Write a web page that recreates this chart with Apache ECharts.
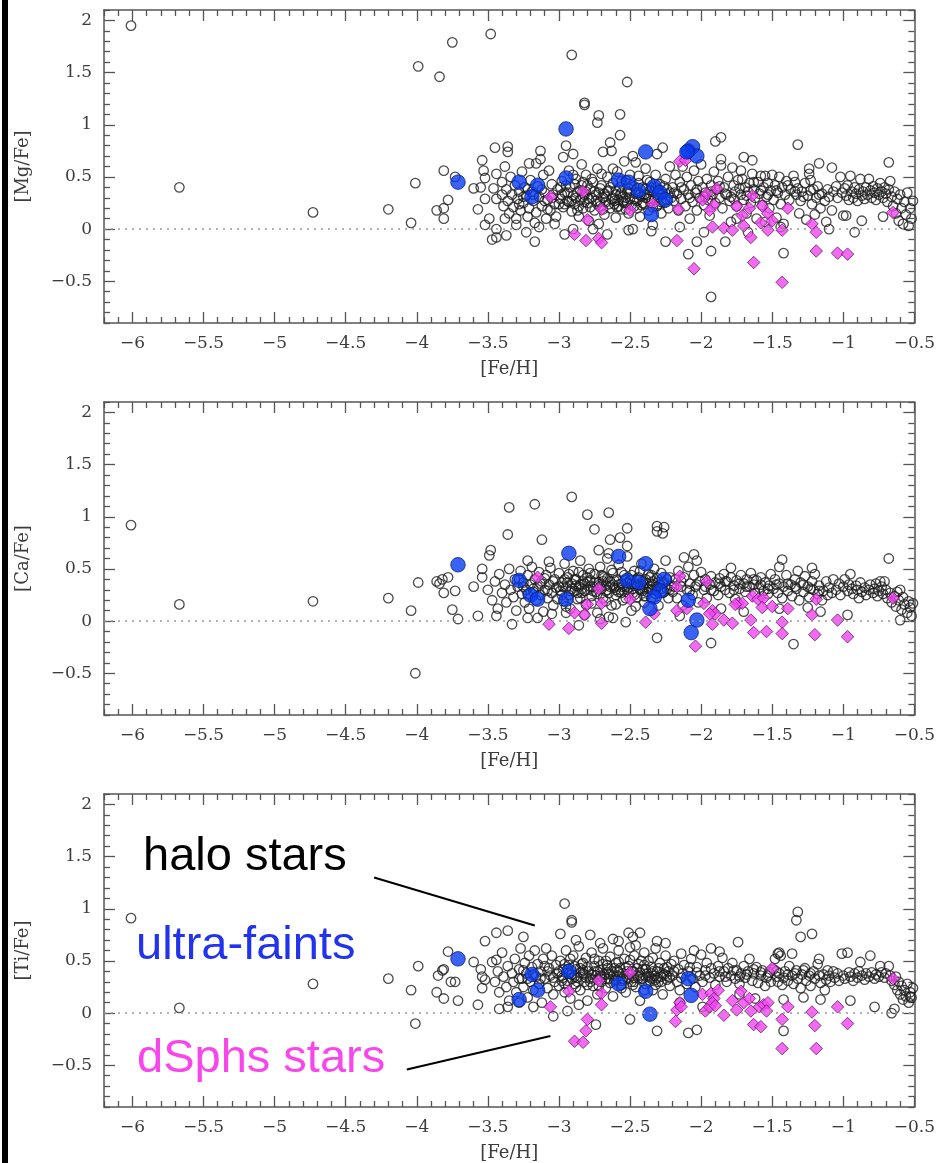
<!DOCTYPE html>
<html>
<head>
<meta charset="utf-8">
<script src="https://cdn.jsdelivr.net/npm/echarts@6/dist/echarts.min.js"></script>
<style>
  html, body { margin: 0; padding: 0; background: #fff; }
  #chart { width: 938px; height: 1163px; }
</style>
</head>
<body>
<div id="chart"></div>
<script>
// [X/Fe] vs [Fe/H] — halo stars, ultra-faint dwarfs and classical dSphs
var xMin = -6.2, xMax = -0.5, yMin = -0.9, yMax = 2.1;
var xTicks = [-6, -5.5, -5, -4.5, -4, -3.5, -3, -2.5, -2, -1.5, -1, -0.5];
var yTicks = [-0.5, 0, 0.5, 1, 1.5, 2];
var panelNames = ['[Mg/Fe]', '[Ca/Fe]', '[Ti/Fe]'];
var xName = '[Fe/H]';

// ── [Mg/Fe] ──
var haloMg = [
  [-6.01,1.95],[-5.67,0.40],[-4.73,0.16],[-4.20,0.19],[-4.04,0.06],[-4.01,0.44],[-3.99,1.56],[-3.84,1.46],[-3.75,1.79],[-3.81,0.56],
  [-3.86,0.18],[-3.81,0.20],[-3.81,0.10],[-3.78,0.28],[-3.73,0.50],[-3.48,1.87],[-2.91,1.67],[-2.52,1.41],[-2.82,1.21],[-2.82,1.19],
  [-2.72,1.09],[-2.73,1.02],[-2.57,1.10],[-2.57,0.90],[-1.93,-0.65],[-1.32,0.81],[-1.86,0.88],[-1.90,0.84],[-0.68,0.64],[-2.09,-0.24],
  [-2.03,-0.12],[-1.93,-0.21],[-1.42,-0.23],[-0.92,-0.03],[-0.98,0.13],[-1.70,0.69],[-1.64,0.66],[-1.17,0.63],[-1.08,0.59],[-3.45,0.78],
  [-3.36,0.79],[-3.36,0.74],[-3.47,-0.10],[-3.17,-0.12],[-3.57,0.19],[-3.54,0.66],
  [-3.60,0.39],[-3.55,0.40],[-3.53,0.56],[-3.52,0.49],[-3.52,0.29],[-3.44,0.53],[-3.46,0.39],[-3.44,0.29],[-3.49,0.10],[-3.52,0.04],
  [-3.44,0.00],[-3.44,-0.08],[-3.38,0.10],[-3.37,-0.06],[-3.30,0.04],[-3.23,-0.03],[-3.14,0.02],
  [-3.40,0.45],[-3.40,0.33],[-3.39,0.22],[-3.38,0.60],[-3.37,0.38],[-3.36,0.27],[-3.35,0.15],[-3.34,0.50],[-3.33,0.33],[-3.32,0.21],
  [-3.31,0.42],[-3.30,0.10],[-3.29,0.29],[-3.28,0.36],[-3.27,0.18],[-3.26,0.55],[-3.25,0.25],[-3.24,0.40],[-3.23,0.32],[-3.22,0.12],
  [-3.21,0.63],[-3.21,0.20],[-3.20,0.47],[-3.19,0.36],[-3.18,0.27],[-3.17,0.06],[-3.16,0.63],[-3.16,0.16],[-3.15,0.41],[-3.14,0.31],
  [-3.13,0.75],[-3.13,0.67],[-3.12,0.22],[-3.11,0.52],[-3.10,0.35],[-3.09,0.10],[-3.08,0.28],[-3.07,0.56],[-3.06,0.18],[-3.05,0.43],
  [-3.04,0.33],[-3.03,0.24],[-3.02,0.12],[-3.03,0.05],[-3.01,0.38],
  [-2.99,0.29],[-2.98,0.46],[-2.97,0.69],[-2.97,0.21],[-2.96,0.35],[-2.96,-0.05],[-2.95,0.80],[-2.94,0.27],[-2.93,0.56],[-2.92,0.40],
  [-2.91,0.17],[-2.90,0.72],[-2.90,0.32],[-2.90,0.00],[-2.89,0.24],[-2.88,0.48],[-2.87,0.36],[-2.86,0.12],[-2.85,0.28],[-2.84,0.62],
  [-2.84,0.42],[-2.83,0.20],[-2.82,0.33],[-2.81,0.52],[-2.80,0.25],[-2.79,0.08],[-2.78,0.38],[-2.77,0.30],[-2.76,0.45],[-2.76,0.00],
  [-2.75,0.18],[-2.74,0.27],[-2.73,0.58],[-2.72,0.35],[-2.72,0.05],[-2.71,0.22],[-2.70,0.42],[-2.69,0.74],[-2.69,0.30],[-2.68,0.14],
  [-2.67,0.26],[-2.66,0.50],[-2.66,-0.05],[-2.65,0.37],[-2.64,0.83],[-2.64,0.20],[-2.63,0.29],[-2.63,0.75],[-2.62,0.44],[-2.61,0.24],
  [-2.60,0.11],[-2.60,0.33],[-2.59,0.55],[-2.58,0.28],[-2.57,0.40],[-2.56,0.19],[-2.55,0.31],[-2.54,0.65],[-2.54,0.25],[-2.53,0.47],
  [-2.52,0.36],[-2.51,-0.01],[-2.51,0.15],[-2.50,0.29],[-2.49,0.42],[-2.48,0.70],[-2.48,0.00],[-2.47,0.22],[-2.46,0.64],[-2.46,0.34],
  [-2.45,0.27],[-2.44,0.51],[-2.43,0.12],[-2.42,0.31],[-2.41,0.40],[-2.40,0.24],[-2.39,0.58],[-2.38,0.33],[-2.37,0.18],[-2.36,0.45],
  [-2.35,0.27],[-2.34,0.04],[-2.33,0.36],[-2.32,0.52],[-2.31,0.72],[-2.31,0.22],[-2.30,0.30],[-2.29,0.43],[-2.28,0.15],[-2.27,0.78],
  [-2.27,0.34],[-2.26,0.25],[-2.25,-0.12],[-2.25,0.48],[-2.24,0.38],[-2.23,0.20],[-2.22,0.60],[-2.21,0.30],
  [-2.98,0.33],[-2.93,0.26],[-2.88,0.30],[-2.86,0.22],[-2.81,0.36],[-2.79,0.29],[-2.74,0.33],[-2.71,0.26],[-2.68,0.34],[-2.65,0.24],
  [-2.62,0.30],[-2.59,0.21],[-2.57,0.33],[-2.55,0.26],[-2.53,0.19],[-2.50,0.35],[-2.47,0.29],[-2.44,0.35],[-2.42,0.23],[-2.39,0.30],
  [-2.36,0.37],[-2.33,0.28],[-2.30,0.38],[-2.28,0.26],[-2.95,0.42],[-2.90,0.52],[-2.83,0.45],[-2.77,0.48],[-2.70,0.53],[-2.62,0.58],
  [-2.56,0.46],[-2.50,0.52],[-2.44,0.44],[-2.38,0.47],
  [-2.20,0.40],[-2.19,0.27],[-2.18,0.52],[-2.17,0.34],[-2.16,0.18],[-2.15,0.45],[-2.14,0.29],[-2.13,0.60],[-2.12,0.38],[-2.11,0.22],
  [-2.10,0.50],[-2.09,0.33],[-2.08,0.10],[-2.07,0.42],[-2.06,0.26],[-2.05,0.56],[-2.04,0.35],[-2.03,0.18],[-2.02,0.46],[-2.01,0.30],
  [-2.00,0.62],[-1.99,0.40],[-1.98,0.23],[-1.98,-0.03],[-1.97,0.35],[-1.96,0.48],[-1.95,0.28],[-1.94,0.13],[-1.93,0.42],[-1.92,0.33],
  [-1.91,0.55],[-1.90,0.25],[-1.89,0.38],[-1.88,0.46],[-1.87,0.30],[-1.86,0.67],[-1.86,0.61],[-1.85,0.20],[-1.84,0.40],[-1.83,-0.12],
  [-1.82,0.33],[-1.81,0.50],[-1.80,0.27],[-1.79,0.07],[-1.79,0.31],[-1.78,0.59],[-1.77,0.42],[-1.76,0.36],[-1.75,0.22],[-1.74,0.47],
  [-1.72,0.56],[-1.72,0.33],[-1.71,0.48],[-1.70,0.28],[-1.69,0.40],[-1.68,0.15],[-1.67,0.36],[-1.66,0.44],[-1.65,0.25],[-1.64,0.53],
  [-1.63,0.38],[-1.62,0.30],[-1.61,0.10],[-1.60,0.45],[-1.59,0.34],[-1.58,0.51],[-1.57,0.23],[-1.56,0.40],[-1.55,0.51],[-1.54,0.31],
  [-1.53,0.44],[-1.52,0.20],[-1.51,0.37],
  [-1.50,0.52],[-1.49,0.28],[-1.48,0.42],[-1.47,0.11],[-1.46,0.35],[-1.45,0.50],[-1.44,0.24],[-1.43,0.40],[-1.42,0.05],[-1.41,0.33],
  [-1.40,0.46],[-1.38,0.28],[-1.37,0.38],[-1.35,0.51],[-1.34,0.45],[-1.33,0.33],[-1.32,0.39],[-1.31,0.15],[-1.30,0.27],[-1.29,0.36],
  [-1.27,0.44],[-1.26,0.09],[-1.25,0.32],[-1.24,0.58],[-1.24,0.53],[-1.23,0.47],[-1.22,0.24],[-1.21,0.38],[-1.20,0.14],[-1.19,0.30],
  [-1.18,0.41],[-1.16,0.20],[-1.15,0.34],[-1.13,0.27],[-1.12,0.07],[-1.11,0.38],
  [-1.10,0.31],[-1.08,0.18],[-1.07,0.36],[-1.05,0.41],[-1.04,0.30],[-1.02,0.50],[-1.01,0.35],[-1.00,0.13],[-0.99,0.39],[-0.98,0.32],
  [-0.97,0.42],[-0.96,0.28],[-0.95,0.51],[-0.94,0.36],[-0.93,0.30],[-0.92,0.40],[-0.91,0.34],[-0.90,0.27],[-0.89,0.38],[-0.88,0.48],
  [-0.87,0.32],[-0.86,0.36],[-0.85,0.29],[-0.84,0.40],[-0.83,0.33],[-0.82,0.48],[-0.81,0.37],[-0.80,0.30],[-0.79,0.41],[-0.78,0.35],
  [-0.77,0.28],[-0.76,0.39],[-0.75,0.33],[-0.74,0.44],[-0.73,0.36],[-0.72,0.30],[-0.71,0.40],[-0.70,0.34],[-0.69,0.26],[-0.68,0.38],
  [-0.67,0.46],[-0.66,0.31],[-0.65,0.22],[-0.64,0.36],[-0.63,0.15],[-0.62,0.29],[-0.61,0.08],[-0.60,0.33],[-0.59,0.20],[-0.58,0.05],
  [-0.57,0.26],[-0.56,0.14],[-0.55,0.35],[-0.54,0.03],[-0.53,0.20],[-0.52,0.10],[-0.51,0.27],
  [-1.75,0.10],[-1.55,0.07],[-1.44,0.02],[-1.10,0.00],[-0.87,0.08],[-1.67,-0.03],[-2.15,0.02],[-2.35,-0.02],[-0.72,0.12]
];
var haloMgCore = [
  [-3.18,0.33],[-3.12,0.38],[-3.08,0.19],[-3.05,0.30],[-3.00,0.24],[-2.99,0.40],[-2.94,0.35],[-2.91,0.27],[-2.89,0.43],[-2.87,0.18],
  [-2.85,0.37],[-2.82,0.26],[-2.80,0.42],[-2.78,0.21],[-2.75,0.36],[-2.73,0.24],[-2.71,0.39],[-2.69,0.19],[-2.67,0.31],[-2.64,0.40],
  [-2.61,0.27],[-2.60,0.37],[-2.58,0.22],[-2.56,0.35],[-2.53,0.30],[-2.51,0.39],[-2.49,0.23],[-2.47,0.41],[-2.45,0.20],[-2.43,0.33],
  [-2.41,0.25],[-2.39,0.39],[-2.37,0.29],[-2.34,0.21],[-2.32,0.40],[-2.30,0.24],[-2.28,0.33],[-2.26,0.41],[-2.24,0.28],[-2.22,0.35],
  [-3.25,0.31],[-3.22,0.38],[-3.28,0.24],[-3.10,0.27],[-2.96,0.24],[-2.83,0.31],[-2.66,0.36],[-2.52,0.25],[-2.40,0.33],[-2.35,0.40],
  [-2.19,0.35],[-2.14,0.40],[-2.08,0.30],[-2.03,0.38],[-1.97,0.31],[-1.93,0.36],[-1.87,0.41],[-1.83,0.34],[-1.77,0.29],[-1.73,0.39],
  [-1.68,0.32],[-1.63,0.45],[-1.58,0.37],[-1.53,0.33],[-1.47,0.37],[-1.39,0.42],[-1.34,0.36],[-1.28,0.31],[-1.23,0.37],[-1.17,0.33]
];
var ufMg = [
  [-3.71,0.45],[-3.28,0.45],[-3.15,0.42],[-3.19,0.31],[-2.95,0.96],[-2.95,0.49],[-2.58,0.47],[-2.51,0.45],[-2.44,0.37],
  [-2.39,0.74],[-2.33,0.41],[-2.29,0.35],[-2.25,0.28],[-2.35,0.14],[-2.09,0.75],[-2.06,0.79],[-2.03,0.70],[-2.10,0.74]
];
var dsphMg = [
  [-3.06,0.31],[-2.83,0.36],[-2.70,0.19],[-2.80,0.09],[-2.89,-0.05],[-2.81,-0.11],[-2.72,-0.09],[-2.70,-0.13],[-2.50,0.18],
  [-2.34,0.24],[-2.16,0.19],[-2.15,0.65],[-2.11,0.66],[-2.17,-0.11],[-2.05,-0.38],[-1.99,0.28],[-1.96,0.34],[-1.89,0.39],
  [-1.91,0.23],[-1.94,0.18],[-1.92,0.02],[-1.84,0.01],[-1.78,-0.01],[-1.75,0.22],[-1.71,0.13],[-1.66,0.20],[-1.64,0.32],
  [-1.70,0.03],[-1.65,-0.08],[-1.63,-0.32],[-1.58,0.06],[-1.57,0.22],[-1.53,0.15],[-1.50,0.08],[-1.53,-0.01],[-1.43,-0.01],
  [-1.39,0.20],[-1.43,-0.51],[-1.22,0.05],[-1.19,-0.03],[-1.19,-0.21],[-1.04,-0.23],[-0.97,-0.24],[-0.65,0.16]
];

// ── [Ca/Fe] ──
var haloCa = [
  [-6.01,0.92],[-5.67,0.16],[-4.73,0.19],[-4.20,0.22],[-4.04,0.10],[-3.99,0.37],[-4.01,-0.50],[-3.86,0.38],[-3.84,0.36],[-3.82,0.40],
  [-3.78,0.42],[-3.81,0.27],[-3.75,0.11],[-3.73,0.29],[-3.71,0.02],[-3.60,0.33],[-3.54,0.50],[-3.54,0.42],[-3.49,0.63],[-3.48,0.68],
  [-3.36,0.83],[-3.35,1.09],[-3.17,1.12],[-3.12,0.78],[-3.22,0.58],[-3.07,0.57],[-2.91,1.19],[-2.80,1.02],[-2.65,1.04],[-2.75,0.88],
  [-2.52,0.89],[-2.64,0.78],[-2.57,0.80],[-2.52,0.72],[-2.72,0.68],[-2.65,0.65],[-2.31,0.91],[-2.31,0.86],[-2.27,0.84],[-2.31,-0.16],
  [-3.33,-0.03],[-3.22,0.03],[-2.86,-0.04],[-2.65,0.04],[-2.62,0.03],[-2.53,-0.01],[-3.57,0.05],[-2.26,0.90],[-2.12,0.61],[-2.05,0.64],
  [-2.03,0.58],[-1.79,0.51],[-1.43,0.59],[-1.45,0.52],[-1.32,0.48],[-1.22,0.51],[-0.68,0.60],[-0.74,0.38],[-0.95,0.45],[-0.97,0.06],
  [-1.35,-0.22],[-1.93,-0.21],[-1.16,0.09],[-0.60,0.01],
  [-3.50,0.30],[-3.47,0.20],[-3.45,0.38],[-3.43,0.12],[-3.42,0.45],[-3.40,0.27],[-3.38,0.35],[-3.37,0.18],[-3.35,0.50],[-3.34,0.30],
  [-3.32,0.23],[-3.31,0.40],[-3.30,0.10],[-3.29,0.33],[-3.27,0.48],[-3.26,0.26],[-3.25,0.37],[-3.24,0.18],[-3.23,0.30],[-3.22,0.44],
  [-3.21,0.12],[-3.20,0.35],[-3.19,0.52],[-3.18,0.28],[-3.17,0.40],[-3.16,0.20],[-3.15,0.33],[-3.14,0.47],[-3.13,0.25],[-3.12,0.38],
  [-3.11,0.09],[-3.10,0.30],[-3.09,0.44],[-3.08,0.22],[-3.07,0.35],[-3.06,0.51],[-3.05,0.27],[-3.04,0.15],[-3.03,0.40],[-3.02,0.32],
  [-3.01,0.21],[-3.44,0.05],[-3.15,0.03],[-3.05,0.07],
  [-3.00,0.46],[-2.99,0.29],[-2.98,0.37],[-2.97,0.19],[-2.96,0.55],[-2.95,0.32],[-2.94,0.42],[-2.93,0.25],[-2.92,0.12],[-2.91,0.36],
  [-2.90,0.48],[-2.89,0.29],[-2.88,0.40],[-2.87,0.21],[-2.86,0.33],[-2.85,0.58],[-2.84,0.27],[-2.83,0.44],[-2.82,0.36],[-2.81,0.16],
  [-2.80,0.30],[-2.79,0.50],[-2.78,0.39],[-2.77,0.24],[-2.76,0.33],[-2.75,0.45],[-2.74,0.28],[-2.73,0.08],[-2.72,0.37],[-2.71,0.52],
  [-2.70,0.31],[-2.69,0.22],[-2.68,0.42],[-2.67,0.34],[-2.66,0.60],[-2.65,0.27],[-2.64,0.38],[-2.63,0.15],[-2.62,0.46],[-2.61,0.32],
  [-2.60,0.25],[-2.59,0.40],[-2.58,0.54],[-2.57,0.30],[-2.56,0.36],[-2.55,0.20],[-2.54,0.44],[-2.53,0.33],[-2.52,0.62],[-2.51,0.27],
  [-2.50,0.39],[-2.49,0.10],[-2.48,0.31],[-2.47,0.48],[-2.46,0.36],[-2.45,0.23],[-2.44,0.42],[-2.43,0.30],[-2.42,0.55],[-2.41,0.34],
  [-2.40,0.18],[-2.39,0.40],[-2.38,0.28],[-2.37,0.45],[-2.36,0.33],[-2.35,0.22],[-2.34,0.38],[-2.33,0.50],[-2.32,0.30],[-2.31,0.41],
  [-2.30,0.15],[-2.29,0.35],[-2.28,0.46],[-2.27,0.27],[-2.26,0.37],[-2.25,0.58],[-2.24,0.31],[-2.23,0.22],[-2.22,0.42],[-2.21,0.34],
  [-2.97,0.33],[-2.92,0.29],[-2.88,0.34],[-2.84,0.31],[-2.80,0.38],[-2.76,0.29],[-2.73,0.34],[-2.69,0.38],[-2.66,0.30],[-2.62,0.35],
  [-2.58,0.28],[-2.55,0.33],[-2.52,0.37],[-2.48,0.27],[-2.45,0.34],[-2.41,0.29],[-2.38,0.36],[-2.35,0.30],[-2.31,0.33],[-2.27,0.36],
  [-2.93,0.45],[-2.86,0.47],[-2.78,0.46],[-2.70,0.44],[-2.63,0.49],[-2.56,0.47],[-2.49,0.44],[-2.43,0.48],[-2.36,0.42],[-2.95,0.14],
  [-2.85,0.22],[-2.77,0.17],[-2.67,0.19],[-2.60,0.16],[-2.53,0.22],[-2.46,0.14],[-2.40,0.24],[-2.95,0.08],[-2.82,0.06],[-2.71,0.02],
  [-2.20,0.28],[-2.18,0.40],[-2.17,0.22],[-2.16,0.48],[-2.14,0.33],[-2.13,0.15],[-2.12,0.42],[-2.10,0.30],[-2.09,0.52],[-2.08,0.36],
  [-2.06,0.25],[-2.05,0.44],[-2.04,0.33],[-2.02,0.18],[-2.01,0.38],[-2.00,0.47],[-1.98,0.30],[-1.97,0.40],[-1.96,0.22],[-1.94,0.35],
  [-1.93,0.43],[-1.91,0.29],[-1.90,0.37],[-1.88,0.25],[-1.87,0.41],[-1.86,0.33],[-1.84,0.45],[-1.83,0.30],[-1.82,0.38],[-1.80,0.27],
  [-1.79,0.42],[-1.77,0.34],[-1.76,0.21],[-1.75,0.39],[-1.73,0.31],[-1.72,0.44],[-1.70,0.36],[-1.69,0.28],[-1.68,0.40],[-1.66,0.33],
  [-1.65,0.46],[-1.63,0.35],[-1.62,0.27],[-1.61,0.39],[-1.59,0.32],[-1.58,0.42],[-1.56,0.29],[-1.55,0.37],[-1.53,0.26],[-1.52,0.34],
  [-1.51,0.45],[-2.15,0.05],[-1.86,0.12],[-1.70,0.09],
  [-1.49,0.31],[-1.48,0.40],[-1.46,0.27],[-1.45,0.36],[-1.43,0.22],[-1.42,0.33],[-1.40,0.44],[-1.39,0.29],[-1.37,0.35],[-1.36,0.24],
  [-1.34,0.40],[-1.33,0.31],[-1.31,0.20],[-1.30,0.37],[-1.28,0.28],[-1.27,0.43],[-1.25,0.33],[-1.24,0.23],[-1.22,0.38],[-1.21,0.30],
  [-1.20,0.45],[-1.18,0.26],[-1.17,0.34],[-1.15,0.20],[-1.14,0.29],[-1.12,0.38],[-1.11,0.25],[-1.25,0.13],[-1.45,0.12],
  [-1.10,0.32],[-1.08,0.27],[-1.07,0.40],[-1.05,0.30],[-1.03,0.36],[-1.02,0.25],[-1.00,0.33],[-0.99,0.40],[-0.97,0.29],[-0.96,0.35],
  [-0.94,0.31],[-0.93,0.26],[-0.91,0.34],[-0.90,0.30],[-0.88,0.37],[-0.87,0.28],[-0.85,0.32],[-0.84,0.25],[-0.82,0.30],[-0.81,0.35],
  [-0.79,0.27],[-0.78,0.31],[-0.76,0.24],[-0.75,0.29],[-0.73,0.33],[-0.72,0.26],[-0.70,0.30],[-0.69,0.22],[-0.67,0.27],[-0.66,0.18],
  [-0.64,0.24],[-0.63,0.14],[-0.62,0.28],[-0.61,0.20],[-0.59,0.11],[-0.58,0.23],[-0.57,0.16],[-0.55,0.08],[-0.54,0.19],[-0.53,0.13],
  [-0.52,0.05],[-0.51,0.17],[-0.89,0.22],[-0.77,0.36],[-0.71,0.38],[-0.60,0.30]
];
var haloCaCore = [
  [-3.18,0.31],[-3.13,0.36],[-3.08,0.29],[-3.04,0.38],[-3.00,0.33],[-2.98,0.25],[-2.94,0.37],[-2.91,0.31],[-2.89,0.40],[-2.87,0.27],
  [-2.85,0.35],[-2.82,0.29],[-2.80,0.42],[-2.78,0.33],[-2.75,0.37],[-2.73,0.26],[-2.71,0.33],[-2.69,0.43],[-2.67,0.29],[-2.64,0.33],
  [-2.61,0.39],[-2.60,0.30],[-2.58,0.35],[-2.56,0.27],[-2.53,0.40],[-2.51,0.32],[-2.49,0.36],[-2.47,0.25],[-2.45,0.41],[-2.43,0.35],
  [-2.41,0.38],[-2.39,0.24],[-2.37,0.31],[-2.34,0.35],[-2.32,0.26],[-2.30,0.37],[-2.28,0.31],[-2.26,0.28],[-2.24,0.40],[-2.22,0.30],
  [-3.25,0.33],[-3.22,0.26],[-3.28,0.40],[-3.10,0.41],[-2.96,0.40],[-2.83,0.38],[-2.66,0.41],[-2.52,0.30],[-2.40,0.31],[-2.35,0.44],
  [-2.19,0.33],[-2.14,0.38],[-2.08,0.29],[-2.03,0.35],[-1.97,0.33],[-1.93,0.30],[-1.87,0.36],[-1.83,0.38],[-1.77,0.30],[-1.73,0.36],
  [-1.68,0.33],[-1.63,0.40],[-1.58,0.35],[-1.53,0.31],[-1.47,0.35],[-1.39,0.36],[-1.34,0.33],[-1.28,0.35],[-1.23,0.31],[-1.17,0.29]
];
var ufCa = [
  [-3.71,0.54],[-3.28,0.39],[-3.20,0.25],[-3.15,0.21],[-2.95,0.21],[-2.93,0.65],[-2.58,0.62],[-2.52,0.39],[-2.44,0.37],
  [-2.39,0.55],[-2.26,0.40],[-2.29,0.29],[-2.33,0.23],[-2.36,0.12],[-2.09,0.20],[-2.03,0.01],[-2.07,-0.11]
];
var dsphCa = [
  [-3.15,0.42],[-3.07,-0.03],[-2.93,-0.07],[-2.89,0.08],[-2.82,0.06],[-2.80,0.16],[-2.72,0.31],[-2.70,0.17],[-2.70,-0.02],
  [-2.50,0.21],[-2.39,-0.01],[-2.33,0.07],[-2.17,0.10],[-2.15,0.43],[-2.17,0.33],[-2.10,0.12],[-2.04,-0.24],[-1.98,0.17],
  [-1.96,0.38],[-1.92,0.10],[-1.90,0.07],[-1.94,0.07],[-1.92,-0.03],[-1.84,0.01],[-1.78,-0.02],[-1.74,0.17],[-1.71,0.17],
  [-1.64,0.24],[-1.60,0.21],[-1.56,0.22],[-1.65,0.01],[-1.63,-0.11],[-1.57,0.13],[-1.54,-0.10],[-1.50,0.14],[-1.43,-0.01],
  [-1.43,-0.12],[-1.39,0.12],[-1.22,0.06],[-1.19,0.21],[-1.20,-0.13],[-1.04,0.01],[-0.97,-0.15],[-0.65,0.22],[-1.76,0.16]
];

// ── [Ti/Fe] ──
var haloTi = [
  [-6.01,0.91],[-5.67,0.05],[-4.73,0.28],[-4.20,0.33],[-4.04,0.22],[-3.99,0.45],[-4.01,-0.10],[-3.78,0.59],[-3.85,0.36],[-3.82,0.41],
  [-3.81,0.42],[-3.76,0.30],[-3.73,0.30],[-3.86,0.20],[-3.81,0.14],[-3.71,0.12],[-3.60,0.49],[-3.55,0.42],[-3.54,0.35],[-3.52,0.32],
  [-3.57,0.08],[-3.52,0.69],[-3.44,0.77],[-3.36,0.79],[-3.25,0.73],[-3.47,0.49],[-3.44,0.51],[-3.54,0.24],[-2.96,1.05],[-2.91,0.89],
  [-2.91,0.87],[-2.99,0.76],[-2.88,0.70],[-2.78,0.75],[-2.71,0.67],[-2.62,0.71],[-2.58,0.69],[-2.51,0.77],[-2.48,0.73],[-2.43,0.77],
  [-2.46,0.65],[-2.31,0.69],[-3.04,-0.03],[-2.94,0.02],[-2.86,0.08],[-2.74,-0.11],[-2.50,-0.06],[-2.31,-0.17],[-1.32,0.97],[-1.33,0.89],
  [-1.30,0.73],[-1.22,0.76],[-1.74,0.68],[-2.09,-0.19],[-2.03,-0.16],[-1.42,-0.17],[-2.25,0.67],[-2.14,0.57],[-0.78,0.06],[-0.66,0.00],
  [-0.53,0.16],
  [-3.45,0.30],[-3.43,0.40],[-3.42,0.20],[-3.40,0.58],[-3.39,0.35],[-3.37,0.25],[-3.36,0.45],[-3.35,0.12],[-3.33,0.38],[-3.32,0.30],
  [-3.31,0.52],[-3.30,0.20],[-3.28,0.42],[-3.27,0.62],[-3.26,0.33],[-3.25,0.25],[-3.24,0.48],[-3.23,0.38],[-3.22,0.15],[-3.21,0.55],
  [-3.20,0.30],[-3.19,0.44],[-3.18,0.22],[-3.17,0.60],[-3.16,0.35],[-3.15,0.47],[-3.14,0.28],[-3.13,0.40],[-3.12,0.10],[-3.11,0.52],
  [-3.10,0.33],[-3.09,0.62],[-3.08,0.24],[-3.07,0.43],[-3.06,0.36],[-3.05,0.55],[-3.04,0.18],[-3.03,0.30],[-3.02,0.46],[-3.01,0.38],
  [-3.36,0.06],[-3.28,0.10],[-3.18,0.06],[-3.42,0.04],
  [-3.00,0.26],[-2.99,0.50],[-2.98,0.36],[-2.97,0.42],[-2.96,0.20],[-2.95,0.60],[-2.94,0.31],[-2.93,0.46],[-2.92,0.14],[-2.91,0.37],
  [-2.90,0.55],[-2.89,0.28],[-2.88,0.42],[-2.87,0.34],[-2.86,0.64],[-2.85,0.22],[-2.84,0.47],[-2.83,0.38],[-2.82,0.30],[-2.81,0.53],
  [-2.80,0.12],[-2.79,0.40],[-2.78,0.33],[-2.77,0.58],[-2.76,0.26],[-2.75,0.45],[-2.74,0.36],[-2.73,0.18],[-2.72,0.50],[-2.71,0.41],
  [-2.70,0.30],[-2.69,0.62],[-2.68,0.37],[-2.67,0.24],[-2.66,0.46],[-2.65,0.33],[-2.64,0.54],[-2.63,0.40],[-2.62,0.16],[-2.61,0.31],
  [-2.60,0.48],[-2.59,0.36],[-2.58,0.60],[-2.57,0.43],[-2.56,0.27],[-2.55,0.38],[-2.54,0.52],[-2.53,0.20],[-2.52,0.34],[-2.51,0.45],
  [-2.50,0.63],[-2.49,0.30],[-2.48,0.40],[-2.47,0.55],[-2.46,0.25],[-2.45,0.36],[-2.44,0.47],[-2.43,0.12],[-2.42,0.33],[-2.41,0.42],
  [-2.40,0.58],[-2.39,0.28],[-2.38,0.38],[-2.37,0.50],[-2.36,0.31],[-2.35,0.44],[-2.34,0.22],[-2.33,0.36],[-2.32,0.62],[-2.31,0.40],
  [-2.30,0.30],[-2.29,0.48],[-2.28,0.35],[-2.27,0.18],[-2.26,0.43],[-2.25,0.55],[-2.24,0.32],[-2.23,0.40],[-2.22,0.26],[-2.21,0.47],
  [-2.97,0.34],[-2.93,0.38],[-2.89,0.35],[-2.85,0.39],[-2.81,0.34],[-2.77,0.37],[-2.73,0.40],[-2.70,0.35],[-2.66,0.39],[-2.62,0.36],
  [-2.59,0.41],[-2.55,0.33],[-2.51,0.37],[-2.47,0.34],[-2.43,0.39],[-2.39,0.35],[-2.35,0.38],[-2.31,0.34],[-2.27,0.38],[-2.24,0.36],
  [-2.96,0.28],[-2.88,0.25],[-2.80,0.27],[-2.72,0.26],[-2.64,0.29],[-2.56,0.24],[-2.48,0.27],[-2.40,0.22],[-2.32,0.27],[-2.92,0.52],
  [-2.83,0.48],[-2.75,0.52],[-2.67,0.50],[-2.58,0.49],[-2.50,0.51],[-2.42,0.50],[-2.34,0.53],
  [-2.20,0.36],[-2.19,0.50],[-2.17,0.30],[-2.16,0.42],[-2.15,0.22],[-2.13,0.38],[-2.12,0.46],[-2.10,0.28],[-2.09,0.40],[-2.07,0.52],
  [-2.06,0.33],[-2.04,0.25],[-2.03,0.44],[-2.01,0.36],[-2.00,0.56],[-1.99,0.30],[-1.97,0.41],[-1.96,0.48],[-1.94,0.34],[-1.93,0.62],
  [-1.91,0.38],[-1.90,0.27],[-1.88,0.45],[-1.87,0.35],[-1.85,0.53],[-1.84,0.40],[-1.82,0.30],[-1.81,0.43],[-1.79,0.36],[-1.78,0.48],
  [-1.76,0.33],[-1.75,0.41],[-1.73,0.28],[-1.72,0.38],[-1.70,0.45],[-1.69,0.34],[-1.67,0.40],[-1.66,0.52],[-1.64,0.31],[-1.63,0.38],
  [-1.61,0.44],[-1.60,0.29],[-1.58,0.36],[-1.57,0.41],[-1.55,0.26],[-1.54,0.34],[-1.52,0.39],[-1.51,0.30],[-2.05,0.60],[-1.87,0.59],
  [-1.99,0.06],[-1.73,0.18],[-1.62,0.14],[-2.15,0.10],
  [-1.49,0.42],[-1.48,0.52],[-1.47,0.35],[-1.46,0.30],[-1.45,0.38],[-1.44,0.55],[-1.43,0.27],[-1.42,0.34],[-1.41,0.40],[-1.39,0.31],
  [-1.38,0.45],[-1.36,0.36],[-1.35,0.28],[-1.33,0.41],[-1.32,0.33],[-1.30,0.24],[-1.29,0.37],[-1.27,0.43],[-1.26,0.31],[-1.24,0.36],
  [-1.23,0.26],[-1.21,0.40],[-1.20,0.33],[-1.18,0.47],[-1.17,0.52],[-1.16,0.29],[-1.14,0.37],[-1.13,0.22],[-1.12,0.32],[-1.11,0.41],
  [-1.46,0.57],[-1.45,0.58],[-1.36,0.57],[-1.28,0.15],[-1.42,0.13],
  [-1.10,0.36],[-1.09,0.30],[-1.07,0.40],[-1.06,0.34],[-1.04,0.38],[-1.03,0.31],[-1.01,0.57],[-1.00,0.36],[-0.99,0.33],[-0.97,0.58],
  [-0.96,0.39],[-0.95,0.35],[-0.93,0.31],[-0.92,0.38],[-0.90,0.34],[-0.89,0.40],[-0.88,0.49],[-0.87,0.36],[-0.85,0.32],[-0.84,0.38],
  [-0.82,0.35],[-0.81,0.55],[-0.80,0.39],[-0.78,0.33],[-0.77,0.37],[-0.75,0.35],[-0.74,0.45],[-0.73,0.39],[-0.71,0.34],[-0.70,0.38],
  [-0.68,0.45],[-0.67,0.36],[-0.66,0.31],[-0.64,0.27],[-0.63,0.35],[-0.62,0.22],[-0.61,0.30],[-0.60,0.18],[-0.59,0.26],[-0.58,0.13],
  [-0.57,0.22],[-0.56,0.16],[-0.55,0.28],[-0.54,0.10],[-0.53,0.20],[-0.52,0.15],[-0.51,0.24],[-0.64,0.04],[-0.95,0.12],[-1.16,0.13]
];
var haloTiCore = [
  [-3.18,0.37],[-3.13,0.33],[-3.08,0.40],[-3.04,0.34],[-3.00,0.40],[-2.98,0.31],[-2.94,0.42],[-2.91,0.33],[-2.89,0.45],[-2.87,0.30],
  [-2.85,0.43],[-2.82,0.37],[-2.80,0.44],[-2.78,0.30],[-2.75,0.40],[-2.73,0.32],[-2.71,0.36],[-2.69,0.47],[-2.67,0.33],[-2.64,0.37],
  [-2.61,0.43],[-2.60,0.32],[-2.58,0.39],[-2.56,0.31],[-2.53,0.44],[-2.51,0.33],[-2.49,0.40],[-2.47,0.30],[-2.45,0.43],[-2.43,0.36],
  [-2.41,0.33],[-2.39,0.42],[-2.37,0.35],[-2.34,0.40],[-2.32,0.32],[-2.30,0.43],[-2.28,0.30],[-2.26,0.37],[-2.24,0.44],[-2.22,0.34],
  [-3.25,0.41],[-3.22,0.33],[-3.28,0.33],[-3.10,0.45],[-2.96,0.47],[-2.83,0.41],[-2.66,0.43],[-2.52,0.40],[-2.40,0.46],[-2.35,0.33],
  [-2.19,0.40],[-2.14,0.34],[-2.08,0.44],[-2.03,0.39],[-1.97,0.36],[-1.93,0.43],[-1.87,0.40],[-1.83,0.35],[-1.77,0.41],[-1.73,0.35],
  [-1.68,0.37],[-1.63,0.42],[-1.58,0.39],[-1.53,0.36],[-1.47,0.40],[-1.39,0.37],[-1.34,0.38],[-1.28,0.41],[-1.23,0.38],[-1.17,0.36]
];
var ufTi = [
  [-3.71,0.52],[-3.28,0.13],[-3.19,0.37],[-3.15,0.22],[-2.93,0.40],[-2.58,0.28],[-2.39,0.21],[-2.36,-0.01],[-2.09,0.33],[-2.07,0.17]
];
var dsphTi = [
  [-3.06,0.06],[-2.93,0.21],[-2.89,-0.27],[-2.83,-0.28],[-2.81,-0.17],[-2.80,-0.06],[-2.72,0.31],[-2.70,0.19],[-2.70,0.08],
  [-2.50,0.39],[-2.17,0.03],[-2.15,0.10],[-2.18,-0.08],[-2.14,0.06],[-1.99,0.18],[-1.93,0.19],[-1.91,0.14],[-1.88,0.22],
  [-1.97,0.02],[-1.94,0.06],[-1.92,0.10],[-1.90,0.07],[-1.84,-0.02],[-1.78,0.12],[-1.75,0.03],[-1.72,0.21],[-1.70,0.10],
  [-1.66,0.14],[-1.65,0.02],[-1.63,-0.11],[-1.58,-0.13],[-1.59,0.06],[-1.56,0.08],[-1.53,0.10],[-1.54,0.02],[-1.50,0.43],
  [-1.43,-0.06],[-1.39,0.06],[-1.43,-0.34],[-1.22,0.01],[-1.20,-0.12],[-1.19,-0.34],[-1.04,0.06],[-0.97,-0.10],[-0.65,0.33]
];

// annotation pointers in panel 3, in data units
var haloPointer = [[-4.30, 1.30], [-3.17, 0.84]];
var dsphPointer = [[-4.07, -0.54], [-3.06, -0.22]];

var frame = '#555';
var txt = '#3c3c3c';
var serif = 'DejaVu Serif';

function fmt(v) { return String(v).replace('-', '\u2212'); }
function minorOf(lo, hi, majors) {
  var out = [];
  for (var i = Math.round(lo * 10); i <= Math.round(hi * 10); i++) {
    var v = i / 10;
    if (majors.indexOf(v) < 0) out.push(v);
  }
  return out;
}
var xMinor = minorOf(xMin, xMax, xTicks);
var yMinor = minorOf(yMin, yMax, yTicks);

var tickLine = { color: frame, width: 1.3 };
var grids = [], xAxes = [], yAxes = [], series = [];
var tops = [10, 402, 794];
var halos = [haloMg.concat(haloMgCore), haloCa.concat(haloCaCore), haloTi.concat(haloTiCore)];
var ufs = [ufMg, ufCa, ufTi], dsphs = [dsphMg, dsphCa, dsphTi];

function axis(g, pos, ticks, len, showLine, extra) {
  var isX = pos === 'bottom' || pos === 'top';
  var a = {
    gridIndex: g, type: 'value', position: pos,
    min: isX ? xMin : yMin, max: isX ? xMax : yMax,
    axisLine: { show: showLine, onZero: false, lineStyle: { color: frame, width: 1.5 } },
    axisTick: { show: true, inside: true, length: len, customValues: ticks, lineStyle: tickLine },
    axisLabel: { show: false },
    splitLine: { show: false }
  };
  return Object.assign(a, extra || {});
}

tops.forEach(function(top, g) {
  grids.push({ left: 104, width: 812, top: top, height: 313 });
  var xi = xAxes.length, yi = yAxes.length;
  xAxes.push(axis(g, 'bottom', xTicks, 11, true, {
    axisLabel: { show: true, customValues: xTicks, formatter: fmt, color: txt, fontFamily: serif, fontSize: 17, margin: 12 },
    name: xName, nameLocation: 'middle', nameGap: 37,
    nameTextStyle: { color: txt, fontFamily: serif, fontSize: 18 }
  }));
  xAxes.push(axis(g, 'bottom', xMinor, 6, false));
  xAxes.push(axis(g, 'top', xTicks, 11, true));
  xAxes.push(axis(g, 'top', xMinor, 6, false));
  yAxes.push(axis(g, 'left', yTicks, 11, true, {
    axisLabel: { show: true, customValues: yTicks, formatter: fmt, color: txt, fontFamily: serif, fontSize: 17, margin: 12 },
    name: panelNames[g], nameLocation: 'middle', nameGap: 72, nameRotate: 90,
    nameTextStyle: { color: txt, fontFamily: serif, fontSize: 18 }
  }));
  yAxes.push(axis(g, 'left', yMinor, 6, false));
  yAxes.push(axis(g, 'right', yTicks, 11, true));
  yAxes.push(axis(g, 'right', yMinor, 6, false));

  var lines = [{ yAxis: 0, lineStyle: { color: '#999', width: 1.6, type: [2, 5] } }];
  if (g === 2) {
    lines.push([{ coord: haloPointer[0] }, { coord: haloPointer[1] }]);
    lines.push([{ coord: dsphPointer[0] }, { coord: dsphPointer[1] }]);
  }
  series.push({
    type: 'scatter', xAxisIndex: xi, yAxisIndex: yi, data: halos[g],
    symbol: 'circle', symbolSize: 9.5, silent: true,
    itemStyle: { color: 'rgba(0,0,0,0)', borderColor: '#1e1e1e', borderWidth: 1.3 },
    markLine: {
      silent: true, symbol: ['none', 'none'], label: { show: false },
      lineStyle: { color: '#000', width: 2, type: 'solid' },
      data: lines
    }
  });
  series.push({
    type: 'scatter', xAxisIndex: xi, yAxisIndex: yi, data: dsphs[g],
    symbol: 'diamond', symbolSize: 12.5, silent: true,
    itemStyle: { color: '#f046f0', borderColor: '#6e1a6e', borderWidth: 1 }
  });
  series.push({
    type: 'scatter', xAxisIndex: xi, yAxisIndex: yi, data: ufs[g],
    symbol: 'circle', symbolSize: 14.5, silent: true,
    itemStyle: { color: '#0a3cf0', borderColor: '#0d1f80', borderWidth: 1 }
  });
});

var chart = echarts.init(document.getElementById('chart'), null, { renderer: 'canvas' });
chart.setOption({
  animation: false,
  backgroundColor: '#fff',
  grid: grids,
  xAxis: xAxes,
  yAxis: yAxes,
  series: series,
  graphic: [
    { type: 'rect', shape: { x: 2, y: 0, width: 6, height: 1163 }, style: { fill: '#000' } },
    { type: 'text', x: 143, y: 857, style: { text: 'halo stars', font: '47px "Liberation Sans"', fill: '#000', verticalAlign: 'middle' } },
    { type: 'text', x: 136, y: 946, style: { text: 'ultra-faints', font: '47px "Liberation Sans"', fill: '#2233ee', verticalAlign: 'middle' } },
    { type: 'text', x: 137, y: 1059, style: { text: 'dSphs stars', font: '47px "Liberation Sans"', fill: '#f846ea', verticalAlign: 'middle' } }
  ]
});
</script>
</body>
</html>
